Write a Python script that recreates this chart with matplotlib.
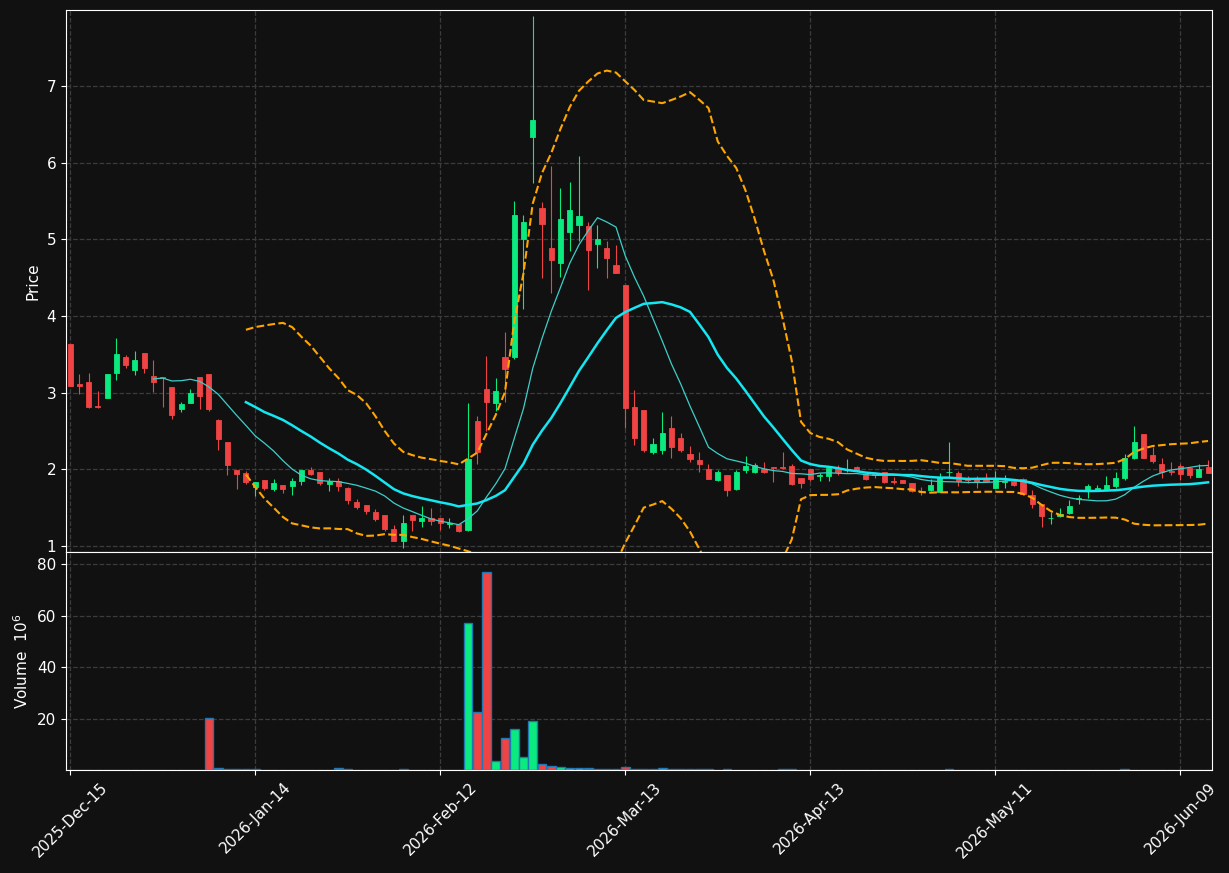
import numpy as np
import pandas as pd
import matplotlib
matplotlib.use("Agg")
import matplotlib.pyplot as plt

# -------------------
# Data
# -------------------
holidays = ["2025-12-25", "2026-01-01", "2026-01-19", "2026-02-16",
            "2026-04-03", "2026-05-25"]

opens = [3.63, 3.11, 3.14, 2.82, 2.93, 3.25, 3.46, 3.30, 3.52, 3.22,
         3.20, 3.07, 2.79, 2.86, 3.20, 3.24, 2.64, 2.36, 1.99, 1.95,
         1.77, 1.86, 1.74, 1.80, 1.78, 1.85, 1.99, 1.96, 1.81, 1.84,
         1.75, 1.57, 1.53, 1.44, 1.40, 1.22, 1.06, 1.40, 1.33, 1.37,
         1.36, 1.29, 1.29, 1.21, 2.63, 3.04, 2.87, 3.46, 3.46, 5.00,
         6.33, 5.41, 4.88, 4.69, 5.09, 5.18, 5.17, 4.94, 4.89, 4.66,
         4.40, 2.81, 2.77, 2.23, 2.25, 2.54, 2.41, 2.20, 2.12, 2.00,
         1.86, 1.93, 1.74, 1.99, 1.97, 2.00, 2.03, 2.03, 2.04, 1.88,
         2.00, 1.91, 1.91, 2.01, 1.99, 2.03, 1.94, 1.94, 1.97, 1.84,
         1.86, 1.82, 1.71, 1.73, 1.70, 1.965, 1.95, 1.87, 1.87, 1.87,
         1.76, 1.83, 1.84, 1.87, 1.66, 1.55, 1.36, 1.39, 1.43, 1.61,
         1.73, 1.72, 1.74, 1.78, 1.89, 2.15, 2.46, 2.18, 2.07, 1.98,
         2.04, 2.02, 1.90, 2.03]
highs = [3.63, 3.24, 3.26, 3.02, 3.24, 3.71, 3.49, 3.54, 3.52, 3.43,
         3.20, 3.07, 2.88, 3.04, 3.20, 3.24, 2.66, 2.36, 1.99, 1.98,
         1.83, 1.86, 1.87, 1.80, 1.88, 1.99, 2.03, 1.96, 1.88, 1.88,
         1.77, 1.61, 1.53, 1.48, 1.40, 1.27, 1.40, 1.40, 1.52, 1.49,
         1.36, 1.36, 1.29, 2.86, 2.69, 3.48, 3.19, 3.79, 5.50, 5.31,
         7.91, 5.48, 5.95, 5.67, 5.75, 6.08, 5.22, 5.19, 4.98, 4.93,
         4.40, 3.03, 2.77, 2.41, 2.75, 2.69, 2.47, 2.30, 2.23, 2.07,
         1.99, 1.93, 1.99, 2.17, 2.08, 2.10, 2.03, 2.23, 2.07, 1.88,
         2.00, 1.95, 2.02, 2.06, 2.13, 2.04, 1.94, 1.97, 1.97, 1.90,
         1.86, 1.82, 1.77, 1.87, 1.95, 2.36, 1.98, 1.91, 1.91, 1.95,
         1.98, 1.92, 1.84, 1.88, 1.73, 1.55, 1.44, 1.49, 1.60, 1.67,
         1.81, 1.79, 1.91, 1.96, 2.20, 2.57, 2.46, 2.29, 2.14, 2.09,
         2.07, 2.02, 2.07, 2.12]
lows = [3.08, 2.98, 2.80, 2.80, 2.93, 3.16, 3.32, 3.23, 3.26, 3.01,
        2.81, 2.65, 2.74, 2.86, 2.78, 2.76, 2.25, 1.93, 1.74, 1.81,
        1.65, 1.73, 1.71, 1.69, 1.66, 1.80, 1.92, 1.79, 1.72, 1.71,
        1.55, 1.48, 1.41, 1.32, 1.20, 1.06, 0.97, 1.20, 1.25, 1.27,
        1.21, 1.23, 1.18, 1.20, 2.07, 2.50, 2.76, 2.88, 3.44, 4.09,
        5.74, 4.50, 4.30, 4.51, 4.85, 4.98, 4.34, 4.63, 4.50, 4.56,
        2.54, 2.32, 2.23, 2.20, 2.20, 2.15, 2.22, 2.10, 1.97, 1.87,
        1.85, 1.65, 1.73, 1.95, 1.95, 1.95, 1.83, 2.00, 1.79, 1.76,
        1.84, 1.85, 1.85, 1.93, 1.97, 1.98, 1.86, 1.88, 1.82, 1.81,
        1.82, 1.70, 1.67, 1.71, 1.70, 1.90, 1.78, 1.82, 1.75, 1.84,
        1.76, 1.76, 1.78, 1.67, 1.50, 1.25, 1.28, 1.38, 1.42, 1.55,
        1.63, 1.72, 1.74, 1.76, 1.86, 2.13, 2.15, 2.08, 1.89, 1.93,
        1.86, 1.88, 1.90, 1.95]
closes = [3.08, 3.09, 2.81, 2.81, 3.24, 3.50, 3.36, 3.43, 3.32, 3.14,
          3.19, 2.71, 2.85, 2.99, 2.96, 2.79, 2.40, 2.05, 1.94, 1.83,
          1.83, 1.76, 1.82, 1.74, 1.85, 1.99, 1.94, 1.82, 1.85, 1.78,
          1.60, 1.51, 1.45, 1.35, 1.22, 1.06, 1.30, 1.34, 1.37, 1.32,
          1.30, 1.30, 1.20, 2.13, 2.23, 2.88, 3.02, 3.31, 5.31, 5.22,
          6.55, 5.20, 4.73, 5.26, 5.38, 5.30, 4.86, 5.00, 4.75, 4.56,
          2.80, 2.41, 2.25, 2.33, 2.47, 2.29, 2.25, 2.13, 2.07, 1.87,
          1.97, 1.73, 1.97, 2.04, 2.05, 1.97, 2.02, 2.02, 1.81, 1.82,
          1.87, 1.92, 2.02, 1.97, 2.00, 1.99, 1.87, 1.92, 1.83, 1.83,
          1.82, 1.72, 1.705, 1.80, 1.90, 1.97, 1.84, 1.86, 1.83, 1.84,
          1.87, 1.85, 1.79, 1.68, 1.55, 1.39, 1.37, 1.42, 1.52, 1.62,
          1.78, 1.75, 1.80, 1.89, 2.14, 2.35, 2.15, 2.11, 1.96, 1.97,
          1.94, 1.92, 2.00, 1.95]
# volume in millions
volumes = [0, 0, 0, 0, 0, 0, 0, 0, 0, 0,
           0, 0, 0, 0, 0, 20.1, 0.8, 0.25, 0.25, 0.25,
           0.2, 0, 0, 0, 0, 0, 0, 0, 0, 0.8,
           0.25, 0, 0, 0, 0, 0, 0.2, 0, 0, 0,
           0, 0, 0, 57.1, 22.7, 77.1, 3.4, 12.5, 16.1, 5.1,
           19.2, 2.2, 1.6, 1.0, 0.65, 0.65, 0.6, 0.25, 0.25, 0.25,
           1.2, 0.25, 0.25, 0.25, 0.6, 0.2, 0.2, 0.2, 0.2, 0.2,
           0, 0.2, 0, 0, 0, 0, 0, 0.2, 0.2, 0,
           0, 0, 0, 0, 0, 0, 0, 0, 0, 0,
           0, 0, 0, 0, 0, 0.2, 0, 0, 0, 0,
           0, 0, 0, 0, 0, 0, 0, 0, 0, 0,
           0, 0, 0, 0, 0.2, 0, 0, 0, 0, 0,
           0, 0, 0, 0]

dates = pd.bdate_range("2025-12-15", periods=len(closes), freq="C",
                       holidays=holidays)
df = pd.DataFrame({"Open": opens, "High": highs, "Low": lows,
                   "Close": closes, "Volume": volumes}, index=dates)

# moving averages / bollinger (20, 2)
mav10 = df["Close"].rolling(10).mean()
mav20 = df["Close"].rolling(20).mean()
std20 = df["Close"].rolling(20).std(ddof=0)
bb_up = mav20 + 2 * std20
bb_dn = mav20 - 2 * std20

# -------------------
# Style
# -------------------
BG = "#111111"
UP = "#0aea7e"
DOWN = "#f04444"
GRID = "#3c3c3c"
plt.rcParams["font.size"] = 11

fig = plt.figure(figsize=(12.29, 8.73), dpi=100, facecolor=BG)
ax = fig.add_axes([0.0537, 0.3677, 0.9325, 0.6208])
axv = fig.add_axes([0.0537, 0.118, 0.9325, 0.2497], sharex=ax)

x = np.arange(len(df))
up = df["Close"].values >= df["Open"].values
colors = np.where(up, UP, DOWN)

# -------------------
# Price panel
# -------------------
ax.vlines(x, df["Low"], df["High"], colors=colors, linewidth=0.8, zorder=3)
body_lo = np.minimum(df["Open"], df["Close"])
body_h = np.abs(df["Close"] - df["Open"])
ax.bar(x, body_h, bottom=body_lo, width=0.55, color=colors,
       edgecolor=colors, linewidth=0.6, zorder=4)

ax.plot(x, mav10, color="#3ccfc8", linewidth=0.9, zorder=5)
ax.plot(x, mav20, color="#14e6f2", linewidth=1.8, zorder=5)
ax.plot(x, bb_up, color="orange", linestyle="--", linewidth=1.5, zorder=5)
ax.plot(x, bb_dn, color="orange", linestyle="--", linewidth=1.5, zorder=5)

ax.set_ylim(0.92, 7.99)
ax.set_ylabel("Price", color="white")

# -------------------
# Volume panel
# -------------------
axv.bar(x, df["Volume"], width=0.95, color=colors, edgecolor="#1f77b4",
        linewidth=1.0, zorder=3)
axv.set_ylim(0, df["Volume"].max() * 1.1)
axv.set_yticks([20, 40, 60, 80])
axv.set_ylabel("Volume  $10^{6}$", color="white")

ticks = x[::20]
axv.set_xticks(ticks)
axv.set_xticklabels([d.strftime("%Y-%b-%d") for d in dates[::20]],
                    rotation=45, ha="center")
axv.set_xlim(-0.45, 123.43)
plt.setp(ax.get_xticklabels(), visible=False)

for a in (ax, axv):
    a.set_facecolor(BG)
    a.grid(True, color=GRID, linestyle="--", linewidth=0.9)
    a.set_axisbelow(True)
    a.tick_params(colors="white", labelcolor="white")
    for s in a.spines.values():
        s.set_color("white")

fig.savefig("out.png", dpi=100, facecolor=BG)
